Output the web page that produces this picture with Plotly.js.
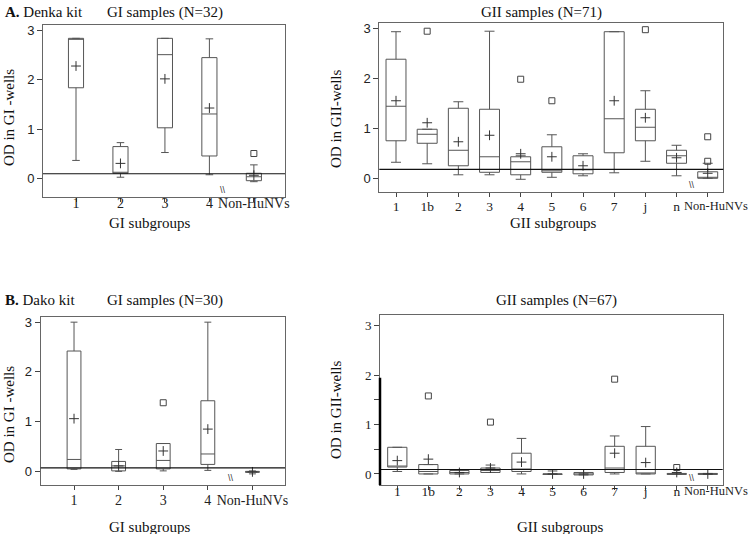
<!DOCTYPE html>
<html>
<head>
<meta charset="utf-8">
<script src="https://cdn.plot.ly/plotly-3.0.1.min.js"></script>
<style>html,body{margin:0;padding:0;background:#fff;}#chart{width:749px;height:534px;}</style>
</head>
<body>
<div id="chart"></div>
<script>
// ---- categories ----
const giCats = ['1', '2', '3', '4', 'Non-HuNVs'];
const giiCats = ['1', '1b', '2', '3', '4', '5', '6', '7', 'j', 'n', 'Non-HuNVs'];

// ---- A. Denka kit, GI samples (N=32) ----
const denkaGI_q1 = [1.84, 0.11, 1.03, 0.46, -0.04];
const denkaGI_med = [2.83, 0.13, 2.51, 1.31, 0.04];
const denkaGI_q3 = [2.84, 0.65, 2.84, 2.45, 0.11];
const denkaGI_lo = [0.37, 0.03, 0.53, 0.08, -0.06];
const denkaGI_hi = [2.84, 0.73, 2.84, 2.83, 0.28];
const denkaGI_mean = [2.28, 0.31, 2.02, 1.43, 0.07];
const denkaGI_outX = ['Non-HuNVs'];
const denkaGI_outY = [0.51];
const denkaGI_cutoff = 0.1;

// ---- A. Denka kit, GII samples (N=71) ----
const denkaGII_q1 = [0.75, 0.70, 0.25, 0.12, 0.07, 0.12, 0.09, 0.51, 0.75, 0.30, 0.00];
const denkaGII_med = [1.44, 0.88, 0.56, 0.43, 0.33, 0.15, 0.17, 1.19, 1.02, 0.45, 0.01];
const denkaGII_q3 = [2.38, 0.98, 1.40, 1.38, 0.43, 0.63, 0.45, 2.93, 1.38, 0.56, 0.13];
const denkaGII_lo = [0.32, 0.29, 0.07, 0.07, -0.02, 0.02, 0.05, 0.11, 0.34, 0.05, 0.00];
const denkaGII_hi = [2.93, 0.98, 1.53, 2.94, 0.45, 0.87, 0.49, 2.93, 1.75, 0.66, 0.30];
const denkaGII_mean = [1.55, 1.11, 0.73, 0.86, 0.49, 0.43, 0.25, 1.55, 1.21, 0.41, 0.10];
const denkaGII_outX = ['1b', '4', '5', 'j', 'Non-HuNVs', 'Non-HuNVs'];
const denkaGII_outY = [2.94, 1.98, 1.55, 2.97, 0.83, 0.34];
const denkaGII_cutoff = 0.18;

// ---- B. Dako kit, GI samples (N=30) ----
const dakoGI_q1 = [0.05, 0.01, 0.05, 0.14, -0.02];
const dakoGI_med = [0.24, 0.11, 0.22, 0.35, -0.01];
const dakoGI_q3 = [2.42, 0.20, 0.56, 1.42, 0.00];
const dakoGI_lo = [0.04, 0.00, 0.01, 0.02, -0.05];
const dakoGI_hi = [3.00, 0.44, 0.56, 3.00, 0.01];
const dakoGI_mean = [1.06, 0.11, 0.41, 0.85, -0.01];
const dakoGI_outX = ['3'];
const dakoGI_outY = [1.38];
const dakoGI_cutoff = 0.07;

// ---- B. Dako kit, GII samples (N=67) ----
const dakoGII_q1 = [0.14, 0.00, 0.00, 0.03, 0.05, -0.01, -0.02, 0.03, 0.00, -0.01, -0.01];
const dakoGII_med = [0.14, 0.05, 0.03, 0.07, 0.10, 0.00, 0.00, 0.12, 0.00, 0.00, 0.00];
const dakoGII_q3 = [0.54, 0.19, 0.07, 0.12, 0.42, 0.00, 0.03, 0.56, 0.56, 0.01, 0.01];
const dakoGII_lo = [0.05, 0.00, 0.00, 0.03, 0.00, -0.01, -0.02, 0.00, 0.00, -0.01, -0.01];
const dakoGII_hi = [0.54, 0.19, 0.07, 0.18, 0.72, 0.06, 0.09, 0.77, 0.96, 0.01, 0.01];
const dakoGII_mean = [0.27, 0.30, 0.03, 0.12, 0.24, 0.00, 0.00, 0.42, 0.23, 0.03, 0.00];
const dakoGII_outX = ['1b', '3', '7', 'n'];
const dakoGII_outY = [1.58, 1.05, 1.92, 0.13];
const dakoGII_cutoff = 0.09;

// ---- y tick labels ----
const yTicksInt = [0, 1, 2, 3];
const yTicksB = [0, 0.5, 1, 1.5, 2, 3];
const yTicksBText = ['0', '', '1', '', '2', '3'];

const W = 749, H = 534;
const px = v => v / W;
const py = v => 1 - v / H;
const SERIF = 'Liberation Serif, Times New Roman, serif';
const SANS = 'Liberation Sans, Arial, sans-serif';

// GII axes: last category label is drawn as an annotation nudged right (as in the original)
const lastGII = giiCats[giiCats.length - 1];
const giiTickText = giiCats.map(c => (c === lastGII ? '' : c));

function boxTrace(cats, q1, med, q3, lo, hi, xa, ya, width) {
  return {
    type: 'box', x: cats, q1: q1, median: med, q3: q3,
    lowerfence: lo, upperfence: hi,
    xaxis: xa, yaxis: ya, width: width, whiskerwidth: 0.5,
    boxpoints: false, fillcolor: 'rgba(0,0,0,0)',
    line: {color: '#555', width: 1}, showlegend: false, hoverinfo: 'skip'
  };
}
function meanTrace(cats, mean, xa, ya) {
  return {
    type: 'scatter', mode: 'markers', x: cats, y: mean, xaxis: xa, yaxis: ya,
    marker: {symbol: 'cross-thin', size: 7, line: {color: '#333', width: 1}},
    showlegend: false, hoverinfo: 'skip'
  };
}
function outTrace(xs, ys, xa, ya) {
  return {
    type: 'scatter', mode: 'markers', x: xs, y: ys, xaxis: xa, yaxis: ya,
    marker: {symbol: 'square-open', size: 6, color: '#444', line: {color: '#444', width: 1}},
    showlegend: false, hoverinfo: 'skip'
  };
}

const data = [
  boxTrace(giCats, denkaGI_q1, denkaGI_med, denkaGI_q3, denkaGI_lo, denkaGI_hi, 'x', 'y', 0.34),
  meanTrace(giCats, denkaGI_mean, 'x', 'y'),
  outTrace(denkaGI_outX, denkaGI_outY, 'x', 'y'),
  boxTrace(giiCats, denkaGII_q1, denkaGII_med, denkaGII_q3, denkaGII_lo, denkaGII_hi, 'x2', 'y2', 0.64),
  meanTrace(giiCats, denkaGII_mean, 'x2', 'y2'),
  outTrace(denkaGII_outX, denkaGII_outY, 'x2', 'y2'),
  boxTrace(giCats, dakoGI_q1, dakoGI_med, dakoGI_q3, dakoGI_lo, dakoGI_hi, 'x3', 'y3', 0.31),
  meanTrace(giCats, dakoGI_mean, 'x3', 'y3'),
  outTrace(dakoGI_outX, dakoGI_outY, 'x3', 'y3'),
  boxTrace(giiCats, dakoGII_q1, dakoGII_med, dakoGII_q3, dakoGII_lo, dakoGII_hi, 'x4', 'y4', 0.62),
  meanTrace(giiCats, dakoGII_mean, 'x4', 'y4'),
  outTrace(dakoGII_outX, dakoGII_outY, 'x4', 'y4')
];

function xax(domain, range, anchor, size, standoff, cats, labels) {
  return {
    domain: domain, range: range, type: 'category', anchor: anchor,
    tickmode: 'array', tickvals: cats, ticktext: labels,
    showline: true, mirror: true, linecolor: '#666', linewidth: 1,
    ticks: 'outside', ticklen: 4, tickcolor: '#444', tickangle: 0,
    ticklabelstandoff: standoff,
    showgrid: false, zeroline: false, fixedrange: true,
    tickfont: {family: SERIF, size: size, color: '#222'}
  };
}
function yax(domain, range, anchor, tickvals, ticktext, fontFam) {
  return {
    domain: domain, range: range, anchor: anchor,
    showline: true, mirror: true, linecolor: '#666', linewidth: 1,
    ticks: 'outside', ticklen: 5, tickcolor: '#444',
    tickvals: tickvals, ticktext: ticktext,
    showgrid: false, zeroline: false, fixedrange: true,
    tickfont: {family: fontFam, size: 13, color: '#222'}
  };
}

function cutLine(xa, ya, val) {
  return {type: 'line', xref: xa + ' domain', yref: ya, x0: 0, x1: 1, y0: val, y1: val,
          line: {color: '#111', width: 1.2}};
}
function txt(text, x, y, size, extra) {
  return Object.assign({text: text, xref: 'paper', yref: 'paper', x: px(x), y: py(y),
    showarrow: false, font: {family: SERIF, size: size, color: '#111'},
    xanchor: 'center', yanchor: 'middle'}, extra || {});
}
function brk(xa, ya, xpos) {
  return {text: '\\\\', xref: xa, yref: ya + ' domain', x: xpos, y: 0,
    showarrow: false, font: {family: SANS, size: 9, color: '#333'},
    xanchor: 'center', yanchor: 'bottom'};
}
function lastLabel(xa, ya, yshift) {
  return {text: lastGII, xref: xa, yref: ya + ' domain', x: giiCats.length - 1, y: 0,
    xshift: 8, yshift: yshift, showarrow: false,
    font: {family: SERIF, size: 12.5, color: '#222'}, xanchor: 'center', yanchor: 'middle'};
}

const layout = {
  width: W, height: H, margin: {l: 0, r: 0, t: 0, b: 0},
  paper_bgcolor: '#fff', plot_bgcolor: '#fff', showlegend: false,
  xaxis: xax([px(43), px(285)], [-0.742, 4.70], 'y', 14, -11, giCats, giCats),
  yaxis: yax([py(197), py(25)], [-0.37, 3.11], 'x', yTicksInt, yTicksInt.map(String), SANS),
  xaxis2: xax([px(379.3), px(723.3)], [-0.536, 10.5], 'y2', 13.5, -3, giiCats, giiTickText),
  yaxis2: yax([py(192.3), py(22.7)], [-0.28, 3.11], 'x2', yTicksInt, yTicksInt.map(String), SANS),
  xaxis3: xax([px(40.7), px(285)], [-0.747, 4.73], 'y3', 14, -2, giCats, giCats),
  yaxis3: yax([py(485.3), py(316.7)], [-0.28, 3.11], 'x3', yTicksInt, yTicksInt.map(String), SANS),
  xaxis4: xax([px(380), px(722.7)], [-0.557, 10.48], 'y4', 13.5, -11, giiCats, giiTickText),
  yaxis4: yax([py(485.3), py(315)], [-0.23, 3.22], 'x4', yTicksB, yTicksBText, SERIF),
  shapes: [
    cutLine('x', 'y', denkaGI_cutoff),
    cutLine('x2', 'y2', denkaGII_cutoff),
    cutLine('x3', 'y3', dakoGI_cutoff),
    cutLine('x4', 'y4', dakoGII_cutoff),
    {type: 'line', xref: 'x4 domain', yref: 'y4', x0: 0, x1: 0, y0: 1.95, y1: -0.23,
     line: {color: '#000', width: 2.5}}
  ],
  annotations: [
    txt('<b>A.</b> Denka kit', 3, 12, 15, {xanchor: 'left'}),
    txt('GI samples (N=32)', 165, 12, 15),
    txt('GII samples (N=71)', 541, 12, 15),
    txt('<b>B.</b> Dako kit', 3, 300, 15, {xanchor: 'left'}),
    txt('GI samples (N=30)', 165, 300, 15),
    txt('GII samples (N=67)', 556, 300, 15),
    txt('GI subgroups', 149, 223, 15),
    txt('GII subgroups', 553, 223, 15),
    txt('GI subgroups', 149, 527, 15),
    txt('GII subgroups', 560, 527, 15),
    txt('OD in GI -wells', 9, 118, 15, {textangle: -90}),
    txt('OD in GII-wells', 336, 119, 15, {textangle: -90}),
    txt('OD in GI -wells', 9, 415, 15, {textangle: -90}),
    txt('OD in GII-wells', 336, 410, 15, {textangle: -90}),
    lastLabel('x2', 'y2', -14),
    lastLabel('x4', 'y4', -6),
    brk('x', 'y', 3.30),
    brk('x2', 'y2', 9.49),
    brk('x3', 'y3', 3.52),
    brk('x4', 'y4', 9.48)
  ]
};

Plotly.newPlot('chart', data, layout, {staticPlot: true, displayModeBar: false});
</script>
</body>
</html>
